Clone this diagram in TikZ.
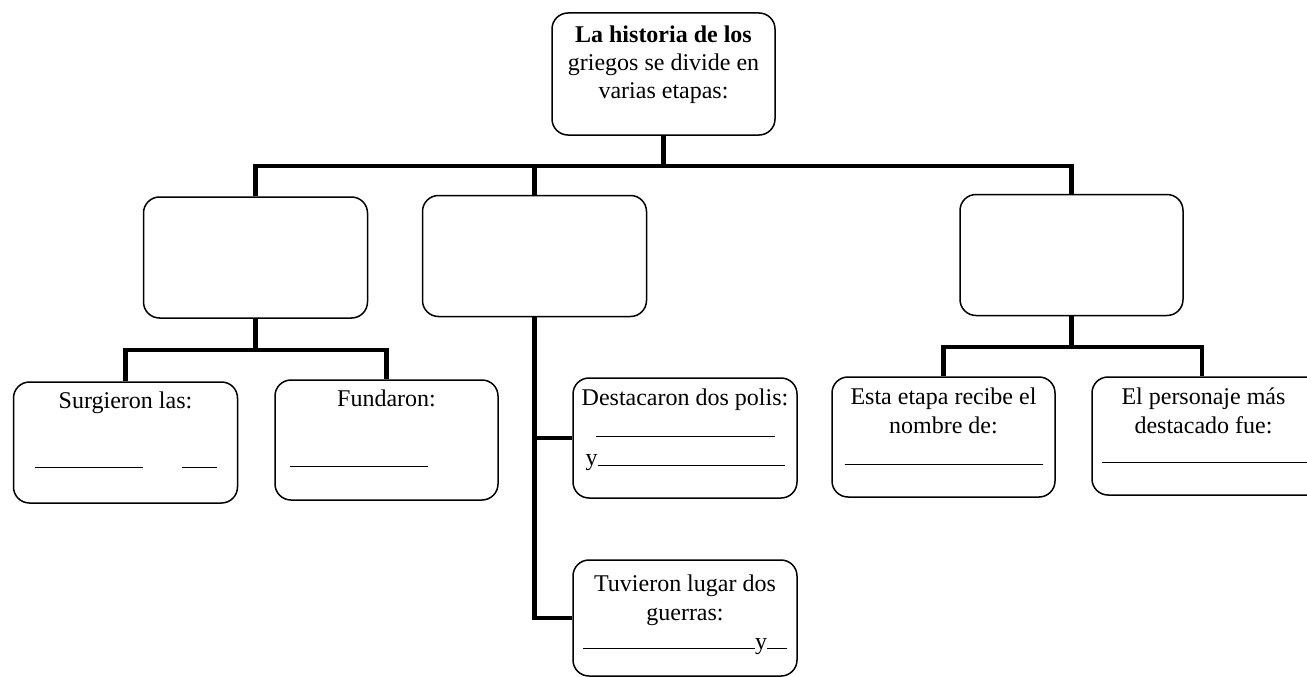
\documentclass[tikz,border=0pt]{standalone}
\usepackage{fontspec}
\setmainfont{Liberation Serif}
\newcommand{\blanco}[1]{\rule{#1}{0.9pt}}
\newcommand{\fondo}[1]{\rule[-#1]{0pt}{#1}}

\begin{document}
\begin{tikzpicture}[x=1pt,y=-1pt,
  caja/.style={draw,line width=1.5pt,rounded corners=16pt,align=center,inner sep=0pt,
    minimum width=224pt,minimum height=121pt,font=\fontsize{24}{29}\selectfont},
  enlace/.style={line width=4.5pt}]
\useasboundingbox (0,0) rectangle (1307,677);

\node[caja,minimum width=223pt,minimum height=122pt,font=\fontsize{24}{28}\selectfont] (raiz) at (663.5,74)
  {\textbf{La historia de los}\\griegos se divide en\\varias etapas:\fondo{24.2pt}};

\node[caja] (etapaA) at (255.5,257.5) {};
\node[caja] (etapaB) at (534.5,256) {};
\node[caja,minimum width=223pt] (etapaC) at (1071.5,255) {};

\node[caja] (surgieron) at (125.5,442.5)
  {Surgieron las:\\[31pt]\blanco{108pt}\hspace{39pt}\blanco{35pt}\fondo{25.3pt}};
\node[caja,minimum width=223pt,minimum height=120pt] (fundaron) at (386.5,440)
  {Fundaron:\\[32pt]\blanco{138pt}\hspace{55pt}\fondo{23.4pt}};
\node[caja,minimum height=120pt] (polis) at (685,438)
  {Destacaron dos polis:\\[2pt]\blanco{179pt}\\y\blanco{187pt}\fondo{21pt}};
\node[caja,minimum height=116pt] (guerras) at (685,618)
  {Tuvieron lugar dos\\guerras:\\\blanco{172pt}y\blanco{20pt}\fondo{12.4pt}};
\node[caja,minimum width=223pt,minimum height=120pt] (nombre) at (943.5,437)
  {Esta etapa recibe el\\nombre de:\\[3pt]\blanco{198pt}\fondo{21.4pt}};
\node[caja,minimum width=236pt,minimum height=118pt] (personaje) at (1210,436)
  {\hspace{-13pt}El personaje más\\\hspace{-13pt}destacado fue:\\[1pt]\hspace{-3pt}\blanco{213pt}\fondo{21.4pt}};

\coordinate (barra) at (0,166);
\coordinate (barraA) at (0,350);
\coordinate (barraC) at (0,347);
\draw[enlace] (raiz.south) -- (raiz.south |- barra);
\draw[enlace] (etapaA.north) |- (etapaC.north |- barra) -- (etapaC.north);
\draw[enlace] (etapaB.north) -- (etapaB.north |- barra);
\draw[enlace] (etapaA.south) -- (etapaA.south |- barraA);
\draw[enlace] (surgieron.north) |- (fundaron.north |- barraA) -- (fundaron.north);
\draw[enlace] (etapaB.south) |- (guerras.west);
\draw[enlace] (etapaB.south |- polis.west) -- (polis.west);
\draw[enlace] (etapaC.south) -- (etapaC.south |- barraC);
\draw[enlace] (nombre.north) |- ([xshift=-8pt]personaje.north |- barraC) -- ([xshift=-8pt]personaje.north);
\end{tikzpicture}
\end{document}
